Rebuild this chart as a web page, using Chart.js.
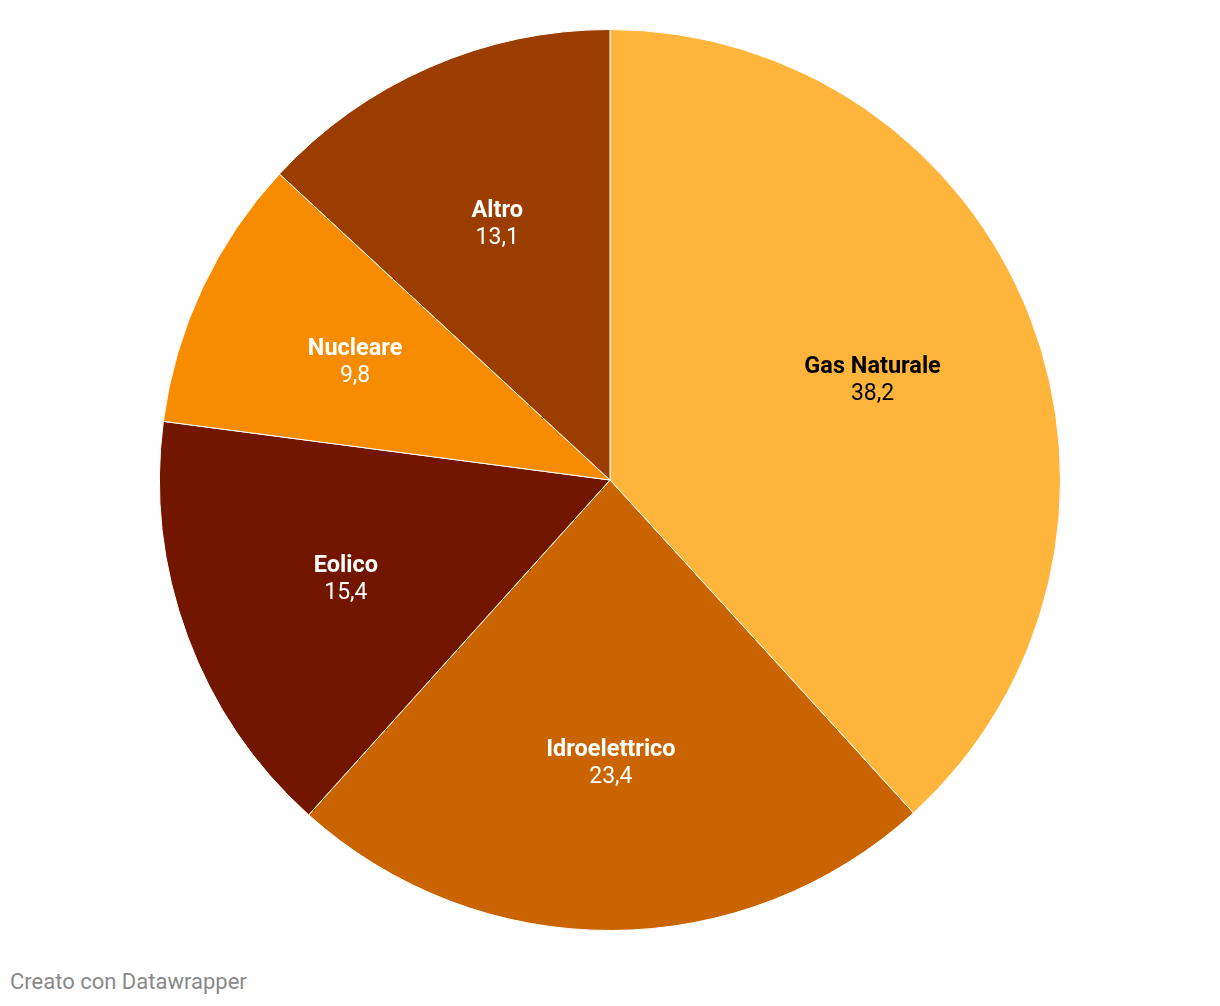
<!DOCTYPE html>
<html>
<head>
<meta charset="utf-8">
<script src="https://cdn.jsdelivr.net/npm/chart.js@4"></script>
<style>
  html, body { margin: 0; padding: 0; background: #fff; }
  body { width: 1220px; height: 1006px; position: relative; overflow: hidden; font-family: Roboto, sans-serif; }
  #wrap { position: absolute; left: 0; top: 29px; width: 1220px; height: 902px; }
  #footer { position: absolute; left: 10px; top: 969px; font-size: 22px; line-height: 26px; color: #888; }
</style>
</head>
<body>
<div id="wrap"><canvas id="chart-pie"></canvas></div>
<div id="footer">Creato con Datawrapper</div>
<script>
// energy mix — pie with inside labels
const labels = ['Gas Naturale', 'Idroelettrico', 'Eolico', 'Nucleare', 'Altro'];
const values = [38.2, 23.4, 15.4, 9.8, 13.1];
const colors = ['#ffb43c', '#c96400', '#721600', '#f78c00', '#9c3d00'];
const textColors = ['#000', '#fff', '#fff', '#fff', '#fff'];

const sliceLabels = {
  id: 'sliceLabels',
  afterDatasetsDraw(chart) {
    const ctx = chart.ctx;
    const meta = chart.getDatasetMeta(0);
    ctx.save();
    ctx.textAlign = 'center';
    ctx.textBaseline = 'middle';
    meta.data.forEach((arc, i) => {
      const p = arc.getProps(['x', 'y', 'startAngle', 'endAngle', 'outerRadius'], true);
      const mid = (p.startAngle + p.endAngle) / 2;
      const r = p.outerRadius * 0.625;
      const x = p.x + Math.cos(mid) * r;
      const y = p.y + Math.sin(mid) * r;
      ctx.fillStyle = textColors[i];
      ctx.font = 'bold 23.5px Roboto, sans-serif';
      ctx.fillText(labels[i], x, y - 11);
      ctx.font = '23px Roboto, sans-serif';
      ctx.fillText(values[i].toFixed(1).replace('.', ','), x, y + 16);
    });
    ctx.restore();
  },
};

new Chart(document.getElementById('chart-pie'), {
  type: 'pie',
  data: {
    labels: labels,
    datasets: [{
      data: values,
      backgroundColor: colors,
      borderColor: '#fff',
      borderWidth: 1,
    }],
  },
  options: {
    responsive: true,
    maintainAspectRatio: false,
    animation: false,
    layout: { padding: 0 },
    plugins: {
      legend: { display: false },
      tooltip: { enabled: false },
    },
  },
  plugins: [sliceLabels],
});
</script>
</body>
</html>
